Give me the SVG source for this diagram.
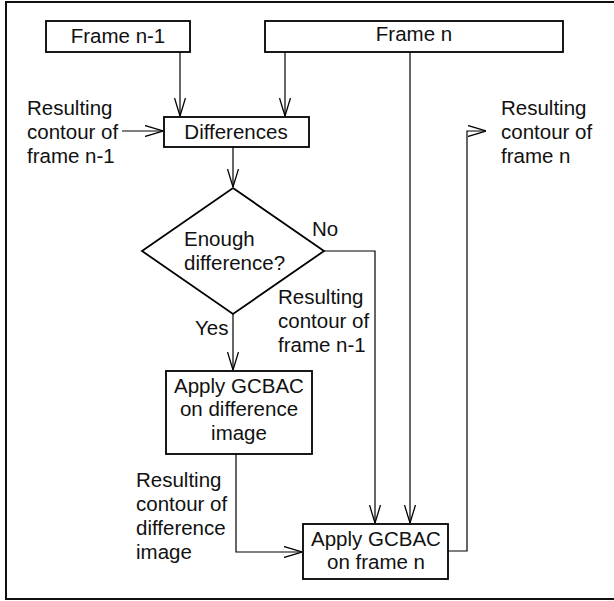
<svg xmlns="http://www.w3.org/2000/svg" width="614" height="601" viewBox="0 0 614 601">
<defs>
<marker id="arr" viewBox="0 0 18 12" refX="18" refY="6" markerWidth="18" markerHeight="12" markerUnits="userSpaceOnUse" orient="auto">
<path d="M0,0.5 L18,6 L0,11.5" fill="none" stroke="#000" stroke-width="1.3"/>
</marker>
</defs>
<style>
.box{fill:#fff;stroke:#000;stroke-width:1.8}
.ln{fill:none;stroke:#000;stroke-width:1.2}
.t{font-family:"Liberation Sans",Arial,sans-serif;font-size:20.5px;fill:#111}
.c{text-anchor:middle}
</style>
<rect x="6" y="2" width="620" height="597" fill="#fff" stroke="#111" stroke-width="2"/>
<g id="connectors">
<path class="ln" d="M180,52 V116" marker-end="url(#arr)"/>
<path class="ln" d="M285,52 V116" marker-end="url(#arr)"/>
<path class="ln" d="M410,52 V523" marker-end="url(#arr)"/>
<path class="ln" d="M122,131 H163" marker-end="url(#arr)"/>
<path class="ln" d="M233,147 V187" marker-end="url(#arr)"/>
<path class="ln" d="M324,251 H375 V523" marker-end="url(#arr)"/>
<path class="ln" d="M233,314 V370" marker-end="url(#arr)"/>
<path class="ln" d="M236,454 V552 H302" marker-end="url(#arr)"/>
<path class="ln" d="M448,551 H467 V131 H486" marker-end="url(#arr)"/>
</g>
<g id="frame-n-1">
<rect class="box" x="46" y="21" width="144" height="31"/>
<text class="t c" x="118" y="43">Frame n-1</text>
</g>
<g id="frame-n">
<rect class="box" x="265" y="21" width="298" height="31"/>
<text class="t c" x="414" y="41">Frame n</text>
</g>
<g id="differences">
<rect class="box" x="164" y="117" width="145" height="30"/>
<text class="t c" x="236" y="139">Differences</text>
</g>
<g id="decision">
<polygon class="box" points="233,188 324,251 233,314 142,251"/>
<text class="t" x="184" y="246">Enough</text>
<text class="t" x="184" y="270">difference?</text>
</g>
<g id="gcbac-diff">
<rect class="box" x="166" y="371" width="146" height="83"/>
<text class="t c" x="239" y="393">Apply GCBAC</text>
<text class="t c" x="239" y="416">on difference</text>
<text class="t c" x="239" y="440">image</text>
</g>
<g id="gcbac-frame">
<rect class="box" x="303" y="524" width="145" height="55"/>
<text class="t c" x="376" y="546">Apply GCBAC</text>
<text class="t c" x="376" y="569">on frame n</text>
</g>
<g id="labels">
<text class="t" x="27" y="115">Resulting</text>
<text class="t" x="27" y="139">contour of</text>
<text class="t" x="27" y="163">frame n-1</text>
<text class="t" x="501" y="115">Resulting</text>
<text class="t" x="501" y="139">contour of</text>
<text class="t" x="501" y="163">frame n</text>
<text class="t" x="312" y="236">No</text>
<text class="t" x="195" y="335">Yes</text>
<text class="t" x="278" y="304">Resulting</text>
<text class="t" x="278" y="328">contour of</text>
<text class="t" x="278" y="352">frame n-1</text>
<text class="t" x="136" y="487">Resulting</text>
<text class="t" x="136" y="511">contour of</text>
<text class="t" x="136" y="535">difference</text>
<text class="t" x="136" y="559">image</text>
</g>
</svg>
